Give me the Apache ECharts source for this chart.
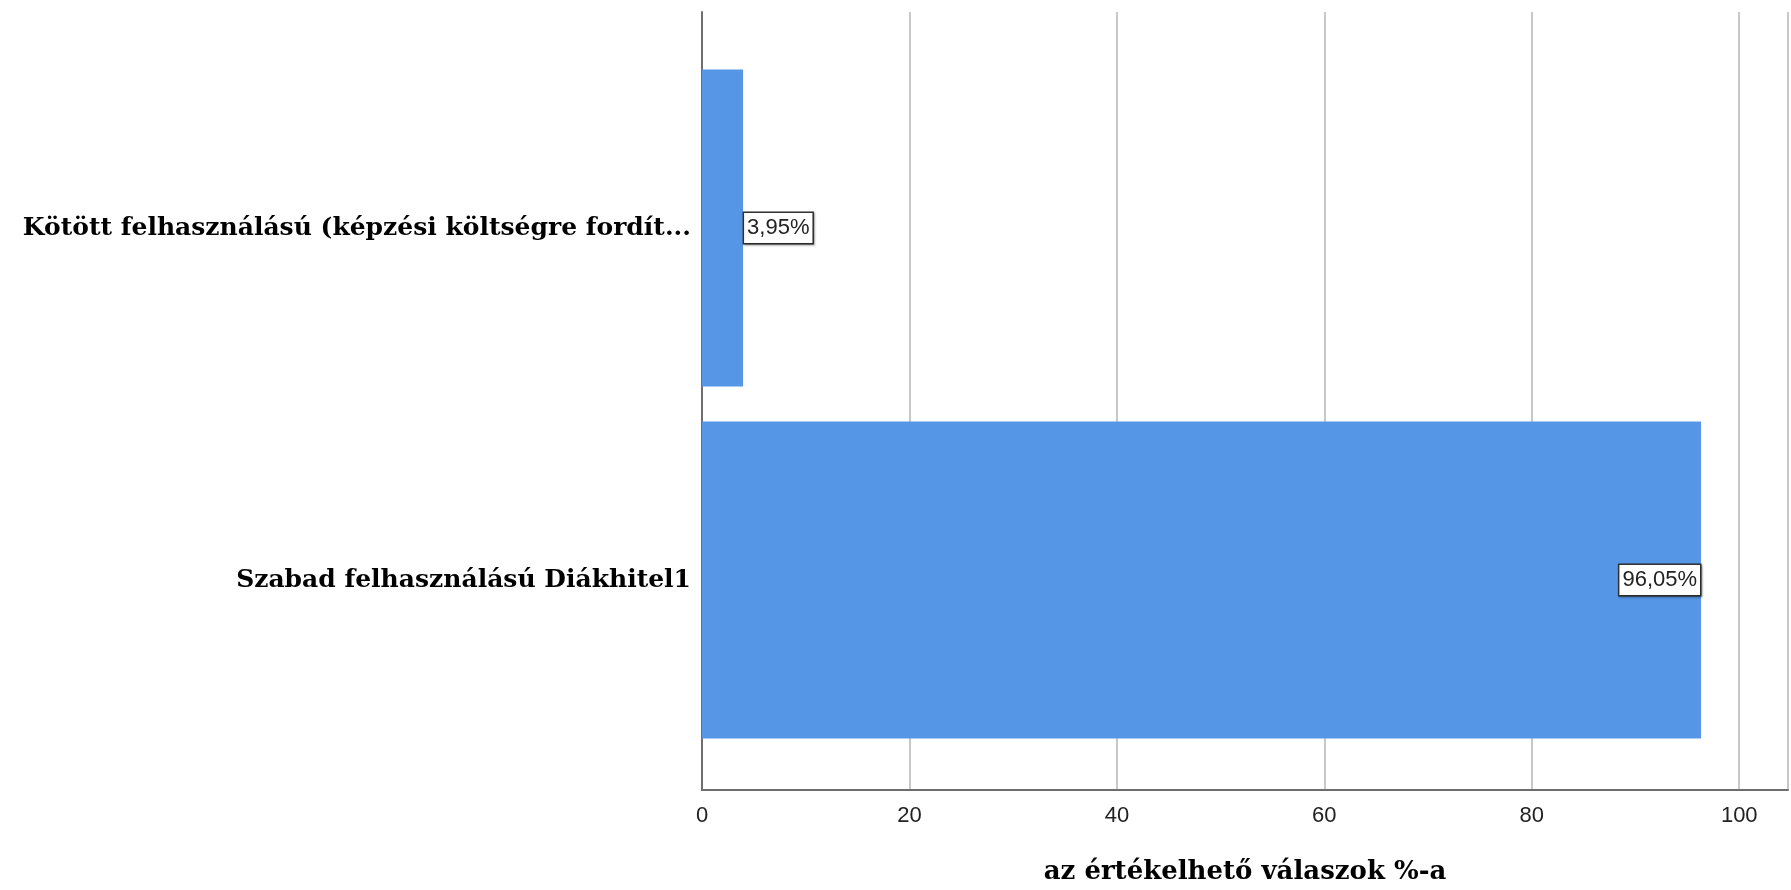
<!DOCTYPE html>
<html>
<head>
<meta charset="utf-8">
<script src="https://cdn.jsdelivr.net/npm/echarts@6/dist/echarts.min.js"></script>
<style>html,body{margin:0;padding:0;background:#fff}#c{width:1791px;height:890px}</style>
</head>
<body>
<div id="c"></div>
<script>
const categories = ['Szabad felhasználású Diákhitel1', 'Kötött felhasználású (képzési költségre fordít...'];
const values = [96.05, 3.95];
const labelPositions = ['insideRight', 'right'];
const xTicks = [0, 20, 40, 60, 80, 100];
const xAxisTitle = 'az értékelhető válaszok %-a';

const serif = '"DejaVu Serif", serif';
const sans = '"Liberation Sans", Arial, sans-serif';
const fmt = v => v.toFixed(2).replace('.', ',') + '%';
const xMax = 104.7;

const chart = echarts.init(document.getElementById('c'), null, {renderer: 'canvas'});
chart.setOption({
  animation: false,
  backgroundColor: '#fff',
  grid: [
    {left: 702, right: 0, top: 52, bottom: 134, containLabel: false},
    {left: 702, right: 0, top: 12, bottom: 97, containLabel: false}
  ],
  xAxis: [
    {gridIndex: 0, type: 'value', min: 0, max: xMax, interval: 20, show: false},
    {gridIndex: 1, type: 'value', min: 0, max: xMax, interval: 20,
     axisLine: {show: true, lineStyle: {color: '#6e6e6e', width: 2}},
     axisTick: {show: false},
     splitLine: {show: true, lineStyle: {color: '#c8c8c8', width: 2}},
     axisLabel: {color: '#222', fontFamily: sans, fontSize: 22, margin: 15,
       formatter: v => xTicks.includes(v) ? String(v) : ''},
     name: xAxisTitle, nameLocation: 'middle', nameGap: 69,
     nameTextStyle: {fontFamily: serif, fontWeight: 'bold', fontSize: 26, color: '#000'}}
  ],
  yAxis: [
    {gridIndex: 0, type: 'category', data: categories,
     axisLine: {show: false}, axisTick: {show: false},
     axisLabel: {fontFamily: serif, fontWeight: 'bold', fontSize: 25, color: '#000', margin: 11}},
    {gridIndex: 1, type: 'value', min: 0, max: 1,
     axisLine: {show: true, lineStyle: {color: '#6e6e6e', width: 2}},
     axisTick: {show: false}, axisLabel: {show: false}, splitLine: {show: false}}
  ],
  series: [{
    type: 'bar', xAxisIndex: 0, yAxisIndex: 0,
    barCategoryGap: '10%',
    itemStyle: {color: '#5596e6'},
    data: values.map((v, i) => ({
      value: v,
      label: {show: true, position: labelPositions[i], distance: 1,
        formatter: p => fmt(p.value),
        fontFamily: sans, fontSize: 22, color: '#222',
        backgroundColor: '#fff', borderColor: '#333', borderWidth: 1.5,
        padding: [5, 3, 3, 3],
        shadowColor: 'rgba(0,0,0,0.35)', shadowBlur: 2, shadowOffsetX: 1, shadowOffsetY: 1}
    }))
  }]
});
</script>
</body>
</html>
